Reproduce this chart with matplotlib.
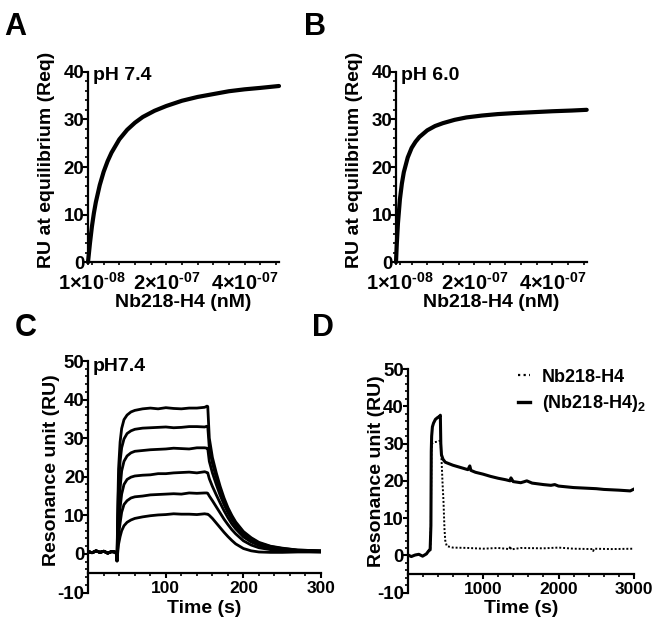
import matplotlib
matplotlib.use("Agg")
import matplotlib.pyplot as plt
from matplotlib.ticker import MultipleLocator, FixedLocator, FixedFormatter
from matplotlib.lines import Line2D

plt.rcParams['font.family'] = ['Liberation Sans', 'DejaVu Sans']
plt.rcParams['font.weight'] = 'bold'
plt.rcParams['axes.unicode_minus'] = False
plt.rcParams['mathtext.fontset'] = 'custom'
plt.rcParams['mathtext.rm'] = 'Liberation Sans:bold'
plt.rcParams['mathtext.bf'] = 'Liberation Sans:bold'
plt.rcParams['mathtext.it'] = 'Liberation Sans:bold'
plt.rcParams['mathtext.default'] = 'rm'

# ---------------- data ----------------
# Panel A: pH 7.4 equilibrium fit (concentration in units of 1e-7)
a_conc = [0, 0.05, 0.1, 0.15, 0.2, 0.3, 0.4, 0.5, 0.6, 0.8, 1.0, 1.2, 1.4, 1.7, 2.0,
          2.4, 2.8, 3.2, 3.6, 4.0, 4.4, 4.88]
a_req = [0, 4.0, 7.5, 10.3, 12.6, 16.2, 19.0, 21.2, 23.0, 25.8, 27.8, 29.3, 30.5, 31.8,
         32.8, 33.9, 34.7, 35.3, 35.9, 36.3, 36.6, 37.0]
# Panel B: pH 6.0
b_conc = [0, 0.02, 0.05, 0.1, 0.15, 0.2, 0.3, 0.4, 0.5, 0.6, 0.8, 1.0, 1.2, 1.5, 1.8,
          2.2, 2.6, 3.0, 3.5, 4.0, 4.5, 4.88]
b_req = [0, 3.8, 8.2, 13.2, 16.5, 18.9, 22.0, 24.0, 25.3, 26.3, 27.7, 28.6, 29.2, 29.9,
         30.4, 30.8, 31.1, 31.3, 31.5, 31.7, 31.85, 32.0]
ab_xticks = [1e-8, 2e-7, 4e-7]
ab_xticklabels = [r'$1{\times}10^{\text{-08}}$', r'$2{\times}10^{\text{-07}}$',
                  r'$4{\times}10^{\text{-07}}$']

# Panel C: sensorgrams (time s, RU)
c_base_t = [0, 5, 10, 15, 20, 25, 30, 34, 36, 37]
c_base_v = [0.6, 0.3, 0.8, 0.4, 0.7, 0.2, 0.6, 0.5, 0.3, -1.8]
c_assoc_t = [38, 39, 41, 43, 46, 50, 55, 60, 70, 80, 90, 100, 110, 120, 130, 140, 150, 153]
c_assoc = [
    [0.5, 2.5, 4.5, 6, 7.3, 8.2, 8.8, 9.2, 9.6, 9.9, 10.1, 10.2, 10.4, 10.3, 10.3, 10.2, 10.4, 10.3],
    [2, 5, 8, 10.8, 12.8, 13.8, 14.5, 14.8, 15.0, 15.3, 15.4, 15.5, 15.6, 15.5, 15.8, 15.7, 15.8, 15.8],
    [4, 8, 12, 15.5, 18, 19.3, 19.9, 20.2, 20.4, 20.5, 20.8, 20.8, 21.0, 21.1, 21.2, 21.0, 21.3, 21.1],
    [7, 12, 17, 21.5, 24, 25.4, 26.2, 26.6, 26.8, 27.0, 27.1, 27.2, 27.4, 27.3, 27.2, 27.5, 27.5, 27.4],
    [10, 18, 24, 27.5, 29.8, 31.2, 31.9, 32.3, 32.6, 32.7, 32.8, 32.9, 32.7, 32.8, 33.0, 33.0, 32.9, 33.1],
    [12, 22, 29, 32.5, 34.8, 36, 36.8, 37.2, 37.6, 37.8, 37.6, 37.9, 37.7, 37.6, 37.8, 37.8, 38.0, 38.3],
]
c_dissoc_t = [154, 156, 160, 165, 170, 175, 180, 185, 190, 200, 210, 220, 235, 250, 270, 285, 300]
c_dissoc = [
    [10.3, 10, 9.2, 8.0, 6.8, 5.6, 4.5, 3.5, 2.6, 1.4, 0.8, 0.5, 0.4, 0.4, 0.5, 0.5, 0.5],
    [15.7, 15, 13.8, 12.2, 10.6, 9.0, 7.6, 6.3, 5.2, 3.4, 2.3, 1.6, 1.1, 0.8, 0.6, 0.6, 0.5],
    [21, 19.5, 17.5, 15.3, 13.2, 11.2, 9.4, 7.8, 6.5, 4.4, 3.1, 2.2, 1.4, 1.0, 0.8, 0.7, 0.6],
    [27.3, 24, 21, 18, 15.2, 12.8, 10.7, 8.9, 7.4, 5.0, 3.6, 2.6, 1.7, 1.2, 0.9, 0.8, 0.7],
    [33, 27.5, 23.5, 19.8, 16.5, 13.8, 11.5, 9.6, 8.0, 5.5, 4.0, 2.8, 1.9, 1.4, 1.0, 0.9, 0.8],
    [38.2, 30, 25, 21, 17.5, 14.5, 12, 10, 8.3, 5.8, 4.2, 3.0, 2.0, 1.5, 1.0, 0.9, 0.8],
]

# Panel D: monomer vs dimer
d_dimer_t = [0, 50, 100, 150, 200, 250, 280, 290, 300, 310, 315, 320, 330, 345, 370, 400,
             425, 435, 441, 450, 470, 500, 600, 700, 800, 825, 840, 900, 1000, 1100, 1200,
             1300, 1360, 1370, 1400, 1500, 1550, 1580, 1650, 1800, 1900, 1950, 2000, 2200,
             2400, 2500, 2600, 2800, 2950, 3000]
d_dimer = [0.2, -0.3, 0.1, 0.3, -0.2, 0.4, 1.2, 1.4, 1.5, 8, 28, 32, 34.5, 35.5, 36.5, 37,
           37.3, 37.6, 30, 27, 25.8, 25, 24.2, 23.6, 23.0, 24.0, 22.8, 22.3, 21.8, 21.2, 20.7,
           20.3, 20.0, 20.8, 19.8, 19.5, 19.8, 20.0, 19.4, 19.0, 18.8, 19.0, 18.6, 18.2,
           18.0, 17.9, 17.7, 17.5, 17.3, 17.8]
d_mono_t = [0, 50, 100, 150, 200, 250, 280, 290, 300, 310, 315, 320, 330, 360, 400, 435, 441,
            450, 465, 476, 490, 500, 520, 600, 800, 1000, 1200, 1350, 1360, 1370, 1500, 1800,
            2000, 2200, 2450, 2460, 2470, 2700, 3000]
d_mono = [0.2, -0.3, 0.1, 0.3, -0.2, 0.4, 1.2, 1.4, 1.5, 8, 27, 29.5, 30.2, 30.4, 30.5, 30.8,
          29.5, 26, 19, 14.8, 7, 4, 2.5, 2.1, 2.0, 1.8, 2.0, 1.7, 2.5, 1.6, 2.0, 1.9, 2.1, 1.8,
          1.7, 1.2, 1.8, 1.7, 1.8]
d_labels = ['Nb218-H4', '(Nb218-H4)$_2$']

# ---------------- figure ----------------
W, H = 655, 621
fig = plt.figure(figsize=(W / 100, H / 100), dpi=100)

def box(l, r, t, b):
    return [l / W, 1 - b / H, (r - l) / W, (b - t) / H]

axA = fig.add_axes(box(88, 279, 71.7, 262.3))
axB = fig.add_axes(box(396, 586.7, 71.7, 262.3))
axC = fig.add_axes(box(88.3, 321, 361, 592.5))
axD = fig.add_axes(box(407.5, 634, 369, 592.7))

FS_YTICK = 13.5
FS_XTICK = 12.5
FS_LAB = 14

def style(ax):
    for s in ['top', 'right']:
        ax.spines[s].set_visible(False)
    for s in ['left', 'bottom']:
        ax.spines[s].set_linewidth(1.6)
    ax.tick_params(which='major', direction='out', length=3.6, width=1.5)
    ax.tick_params(which='minor', direction='out', length=2.2, width=1.2)
    ax.tick_params(axis='y', which='major', pad=-1, labelsize=FS_YTICK)
    ax.tick_params(axis='x', which='major', pad=2, labelsize=FS_XTICK)
    for lab in ax.get_xticklabels() + ax.get_yticklabels():
        lab.set_fontweight('bold')

# A and B
for ax, conc, req, ph, yc in [(axA, a_conc, a_req, 'pH 7.4', 0.537),
                              (axB, b_conc, b_req, 'pH 6.0', 0.538)]:
    ax.plot([c * 1e-7 for c in conc], req, color='black', lw=3.0, clip_on=False,
            solid_capstyle='round', solid_joinstyle='round')
    ax.set_xlim(0, 4.88e-7)
    ax.set_ylim(0, 40)
    ax.yaxis.set_major_locator(MultipleLocator(10))
    ax.yaxis.set_minor_locator(MultipleLocator(2))
    ax.xaxis.set_major_locator(FixedLocator(ab_xticks))
    ax.xaxis.set_major_formatter(FixedFormatter(ab_xticklabels))
    ax.xaxis.set_minor_locator(MultipleLocator(0.4e-7))
    style(ax)
    ax.tick_params(axis='x', which='major', length=2.2, width=1.2, pad=5,
                   labelsize=14.5)
    ax.set_ylabel('RU at equilibrium (Req)', fontsize=FS_LAB, fontweight='bold')
    ax.yaxis.set_label_coords(-0.173, yc)
    ax.set_xlabel('Nb218-H4 (nM)', fontsize=FS_LAB, fontweight='bold')
    ax.xaxis.set_label_coords(0.5, -0.166)
    ax.text(0.025, 0.956, ph, transform=ax.transAxes, fontsize=FS_LAB,
            fontweight='bold', ha='left', va='baseline')

# C
for i in range(len(c_assoc)):
    t = c_base_t + c_assoc_t + c_dissoc_t
    v = c_base_v + c_assoc[i] + c_dissoc[i]
    axC.plot(t, v, color='black', lw=2.0, solid_joinstyle='round')
axC.set_xlim(0, 300)
axC.set_ylim(-10, 50)
axC.spines['bottom'].set_position(('data', -5))
axC.xaxis.set_major_locator(FixedLocator([100, 200, 300]))
axC.xaxis.set_minor_locator(MultipleLocator(20))
axC.yaxis.set_major_locator(MultipleLocator(10))
axC.yaxis.set_minor_locator(MultipleLocator(2))
style(axC)
axC.set_ylabel('Resonance unit (RU)', fontsize=FS_LAB, fontweight='bold')
axC.yaxis.set_label_coords(-0.122, 0.529)
axC.set_xlabel('Time (s)', fontsize=FS_LAB, fontweight='bold')
axC.xaxis.set_label_coords(0.5, -0.032)
axC.text(0.02, 0.957, 'pH7.4', transform=axC.transAxes, fontsize=FS_LAB,
         fontweight='bold', ha='left', va='baseline')

# D
l1, = axD.plot(d_mono_t, d_mono, color='black', lw=1.4, linestyle=(0, (1, 1)))
l2, = axD.plot(d_dimer_t, d_dimer, color='black', lw=2.2, solid_joinstyle='round')
axD.set_xlim(0, 3000)
axD.set_ylim(-10, 50)
axD.spines['bottom'].set_position(('data', -5))
axD.xaxis.set_major_locator(FixedLocator([1000, 2000, 3000]))
axD.xaxis.set_minor_locator(MultipleLocator(200))
axD.yaxis.set_major_locator(MultipleLocator(10))
axD.yaxis.set_minor_locator(MultipleLocator(2))
style(axD)
axD.set_ylabel('Resonance unit (RU)', fontsize=FS_LAB, fontweight='bold')
axD.yaxis.set_label_coords(-0.099, 0.542)
axD.set_xlabel('Time (s)', fontsize=FS_LAB, fontweight='bold')
axD.xaxis.set_label_coords(0.5, -0.033)
h1 = Line2D([], [], color='black', lw=1.6, linestyle=(0, (1, 1.5)))
h2 = Line2D([], [], color='black', lw=2.4)
leg = axD.legend([h1, h2], d_labels, loc='upper left', frameon=False,
                 bbox_to_anchor=(505 / W, 1 - 356 / H), bbox_transform=fig.transFigure,
                 handlelength=0.7, handletextpad=0.65, labelspacing=0.4,
                 prop={'size': 13, 'weight': 'bold'}, borderpad=0.2)

# panel letters
for s, x, y in [('A', 4, 12), ('B', 304, 12), ('C', 15, 313), ('D', 312, 313)]:
    fig.text(x / W, 1 - y / H, s, fontsize=22, fontweight='bold', ha='left', va='top')

fig.savefig('out.png', dpi=100)
